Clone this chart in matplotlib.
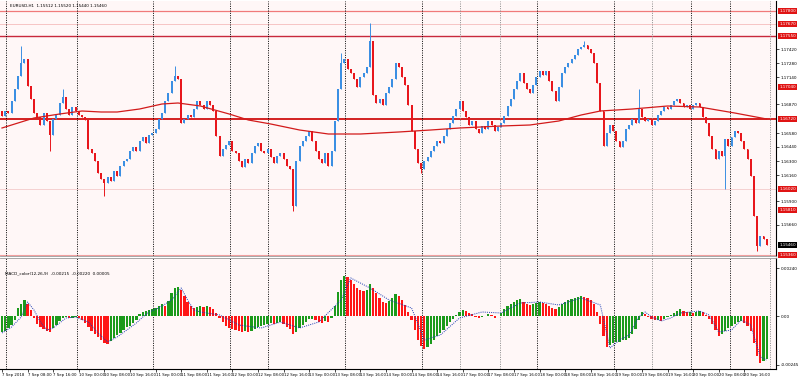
import numpy as np
import pandas as pd
import matplotlib
matplotlib.use("Agg")
import matplotlib.pyplot as plt
import matplotlib.transforms as mtransforms

# ---- price data (H1 closes) ----
first_open = 1.1680
closes = [
    1.1675, 1.1680, 1.1678, 1.1690, 1.1702, 1.1715, 1.1728, 1.1732, 1.1705, 1.1692,
    1.1678, 1.1674, 1.1666, 1.1678, 1.1670, 1.1656, 1.1672, 1.1676, 1.1688, 1.1694,
    1.1682, 1.1676, 1.1684, 1.1680, 1.1676, 1.1674, 1.1671, 1.1642, 1.1638, 1.1630,
    1.1618, 1.1612, 1.1608, 1.1614, 1.1610, 1.1620, 1.1615, 1.1625, 1.1630, 1.1632,
    1.1640, 1.1644, 1.1640, 1.1650, 1.1654, 1.1648, 1.1656, 1.1658, 1.1662, 1.1672,
    1.1678, 1.1690, 1.1698, 1.1710, 1.1715, 1.1712, 1.1668, 1.1672, 1.1676, 1.1674,
    1.1682, 1.1690, 1.1686, 1.1682, 1.1690, 1.1686, 1.1680, 1.1655, 1.1635, 1.1642,
    1.1646, 1.1650, 1.1640, 1.1638, 1.1630, 1.1624, 1.1632, 1.1628, 1.1638, 1.1645,
    1.1648, 1.1640, 1.1638, 1.1642, 1.1634, 1.1628, 1.1635, 1.1638, 1.1632, 1.1625,
    1.1622, 1.1585, 1.1630, 1.1645, 1.1650, 1.1655, 1.1660, 1.1650, 1.1640, 1.1632,
    1.1628, 1.1638, 1.1625, 1.1640, 1.1670, 1.1702, 1.1728, 1.1732, 1.1722, 1.1718,
    1.1712, 1.1704, 1.1714, 1.1718, 1.1724, 1.1750, 1.1696, 1.1688, 1.1692, 1.1686,
    1.1698, 1.1704, 1.1712, 1.1728, 1.1724, 1.1714, 1.1706, 1.1686, 1.1660, 1.1642,
    1.1628, 1.1622, 1.1630, 1.1634, 1.1640, 1.1645, 1.1650, 1.1648, 1.1655, 1.1662,
    1.1668, 1.1675, 1.1682, 1.1690, 1.1680, 1.1674, 1.1666, 1.1670, 1.1662, 1.1658,
    1.1665, 1.1662, 1.1670, 1.1666, 1.1660, 1.1664, 1.1668, 1.1675, 1.1685, 1.1692,
    1.1702, 1.1710, 1.1718, 1.1708, 1.1702, 1.1698, 1.1706, 1.1714, 1.1720, 1.1716,
    1.1720, 1.1710, 1.1700, 1.1690, 1.1704, 1.1718, 1.1724, 1.1728, 1.1732, 1.1736,
    1.1742, 1.1744, 1.1746, 1.1742, 1.1738, 1.1728, 1.1708, 1.1680, 1.1645, 1.1658,
    1.1666, 1.1660, 1.1650, 1.1644, 1.1650, 1.1662, 1.1666, 1.1672, 1.1668, 1.1682,
    1.1674, 1.1670, 1.1672, 1.1666, 1.1670, 1.1676, 1.1680, 1.1684, 1.1682, 1.1686,
    1.1690, 1.1692, 1.1688, 1.1684, 1.1686, 1.1682, 1.1686, 1.1688, 1.1684, 1.1674,
    1.1668, 1.1655, 1.1642, 1.1632, 1.1640, 1.1635, 1.1652, 1.1645, 1.1654, 1.1660,
    1.1658, 1.1650, 1.1642, 1.1632, 1.1615, 1.1575, 1.1545, 1.1555, 1.1552, 1.1546,
]
# wicks that stick out past the bodies (bar index -> price)
wick_high = {6: 1.1745, 19: 1.1702, 54: 1.1725, 106: 1.1738, 115: 1.1768,
             182: 1.1750, 199: 1.1702}
wick_low = {15: 1.1640, 32: 1.1595, 91: 1.1580, 131: 1.1618, 226: 1.1602,
            236: 1.1540}

# moving average, read at a few bars
ma_bars = [0, 10, 18, 25, 31, 36, 43, 50, 55, 62, 71, 77, 84, 93, 102, 112, 124,
           134, 143, 156, 165, 174, 181, 187, 197, 208, 218, 229, 239]
ma_vals = [1.1663, 1.1673, 1.1677, 1.1680, 1.1679, 1.1679, 1.1682, 1.1687, 1.1688,
           1.1685, 1.1677, 1.1671, 1.1667, 1.1661, 1.1657, 1.1657, 1.1659, 1.1661,
           1.1663, 1.1665, 1.1666, 1.1670, 1.1676, 1.1680, 1.1682, 1.1685, 1.1684,
           1.1678, 1.1672]

# horizontal levels
levels = [1.1780, 1.1767, 1.1755, 1.1672, 1.1602, 1.1536]
level_colors = ["#f07a7a", "#f6c4c4", "#c8283c", "#d01010", "#f4caca", "#f2a0a0"]
level_widths = [0.9, 0.7, 1.0, 1.3, 0.6, 0.8]
box_levels = [1.1780, 1.1767, 1.1755, 1.1704, 1.1672, 1.1602, 1.1581, 1.1536]
price_ticks = [1.1742, 1.1728, 1.1714, 1.1687, 1.1658, 1.1644, 1.1630, 1.1616,
               1.1590, 1.1566]

# MACD histogram and signal, in points (1e-5)
hist_pts = [
    -80, -75, -60, -45, -20, 40, 60, 80, 60, 30,
    -10, -40, -55, -65, -75, -80, -60, -45, -25, -10,
    -5, -10, -10, -5, -10, -20, -35, -55, -75, -90,
    -105, -120, -135, -140, -125, -110, -95, -85, -70, -55,
    -50, -35, -20, 10, 20, 25, 30, 35, 40, 50,
    60, 50, 75, 115, 140, 145, 130, 100, 70, 50,
    40, 45, 50, 45, 50, 45, 35, 15, -10, -30,
    -50, -60, -65, -70, -75, -80, -75, -80, -75, -65,
    -55, -50, -45, -40, -35, -40, -35, -30, -40, -55,
    -65, -90, -80, -60, -45, -30, -15, -15, -20, -30,
    -35, -25, -30, -10, 50, 120, 180, 200, 195, 180,
    160, 140, 130, 125, 130, 160, 140, 115, 90, 70,
    65, 75, 90, 110, 100, 80, 55, 20, -20, -70,
    -120, -150, -165, -155, -140, -120, -100, -85, -70, -50,
    -30, -15, 5, 20, 30, 25, 15, 10, -5, -10,
    -5, 2, 10, 5, -10, -2, 15, 35, 50, 60,
    70, 80, 85, 70, 60, 55, 60, 65, 70, 65,
    60, 50, 40, 35, 45, 60, 70, 80, 85, 90,
    95, 100, 95, 90, 80, 60, 20, -40, -100, -155,
    -145, -135, -130, -130, -120, -120, -110, -90, -65, -20,
    20, 10, -5, -15, -20, -20, -25, -15, -5, 5,
    15, 25, 35, 25, 20, 20, 15, 20, 25, 20,
    5, -15, -40, -70, -100, -90, -75, -60, -50, -40,
    -30, -25, -35, -50, -75, -135, -200, -235, -225, -215,
]
sig_bars = [0, 3, 6, 8, 10, 12, 14, 16, 18, 20, 23, 27, 30, 33, 36, 39, 42, 44, 46,
            49, 53, 56, 58, 60, 62, 68, 74, 81, 87, 93, 99, 106, 109, 115, 121, 128,
            132, 137, 143, 150, 156, 162, 168, 174, 181, 187, 190, 193, 196, 199,
            201, 203, 206, 209, 212, 218, 221, 224, 228, 231, 234, 237, 239]
sig_pts = [-85, -55, -5, 70, 30, -30, -70, -60, -35, -10, -5, -30, -85, -130, -105,
           -70, -35, -5, 20, 40, 80, 140, 80, 30, 20, 5, -45, -60, -30, -60, -30,
           80, 190, 140, 80, 40, -120, -95, -10, 20, 15, 65, 70, 55, 90, 55, -160,
           -120, -95, -5, 20, -5, -25, -10, 15, 25, 5, -80, -70, -20, -45, -205, -220]

# day separators (bar positions)
sep_bars = [1.25, 23.4, 47.2, 71.25, 83.1, 107.2, 131.25, 143.1, 155.6, 167.2,
            191.25, 203.1, 215.3, 227.5, 240.0]
sep_dark = [True, True, True, True, True, True, True, False, False, True,
            True, False, True, True, False]

bg = "#fff7f7"
bull = "#3b8fe3"
bear = "#e8161c"

closes = np.array(closes)
opens = np.concatenate([[first_open], closes[:-1]])
highs = np.maximum(opens, closes)
lows = np.minimum(opens, closes)
for k, v in wick_high.items():
    highs[k] = v
for k, v in wick_low.items():
    lows[k] = v
idx = np.arange(len(closes))
up = closes >= opens

plt.rcParams["font.family"] = "DejaVu Sans"
fig = plt.figure(figsize=(8, 3.77), dpi=100, facecolor="white")
ax = fig.add_axes([0, 121 / 377, 776 / 800, 255 / 377], facecolor=bg)
ax2 = fig.add_axes([0, 8 / 377, 776 / 800, 111 / 377], facecolor=bg)

xlim = (-0.625, 241.9)

# ---- main price panel ----
for lv, c, w in zip(levels, level_colors, level_widths):
    ax.axhline(lv, color=c, lw=w, zorder=1)
for b, d in zip(sep_bars, sep_dark):
    for a in (ax, ax2):
        a.axvline(b, color="black" if d else "#888888", lw=0.7,
                  ls=(0, (1, 1.4)), zorder=1)

cols = np.where(up, bull, bear)
ax.vlines(idx, lows, highs, colors=cols, lw=0.7, zorder=2)
body_lo = np.minimum(opens, closes)
body_h = np.maximum(np.abs(closes - opens), 0.00003)
ax.bar(idx, body_h, bottom=body_lo, width=0.6, color=cols, edgecolor="none", zorder=2)
ax.plot(ma_bars, ma_vals, color="#d21a1a", lw=0.9, zorder=3)

ax.set_xlim(*xlim)
ax.set_ylim(1.1535, 1.1790)
ax.set_xticks([])
ax.yaxis.tick_right()
ax.set_yticks(price_ticks)
ax.set_yticklabels([f"{p:.5f}" for p in price_ticks])
ax.tick_params(axis="y", labelsize=3.0, length=2, width=0.5, pad=1.5)
for s in ("left", "top"):
    ax.spines[s].set_visible(False)
ax.spines["right"].set_color("black")
ax.spines["right"].set_linewidth(0.8)
ax.spines["bottom"].set_color("#999999")
ax.spines["bottom"].set_linewidth(0.6)

trans = mtransforms.blended_transform_factory(ax.transAxes, ax.transData)
for lv in box_levels:
    ax.text(1.004, lv, f"{lv:.5f}", transform=trans, fontsize=3.0, color="white",
            va="center", ha="left", clip_on=False, zorder=5,
            bbox=dict(boxstyle="square,pad=0.3", fc="#e01414", ec="none"))
ax.text(1.004, closes[-1], f"{closes[-1]:.5f}", transform=trans, fontsize=3.0,
        color="white", va="center", ha="left", clip_on=False, zorder=5,
        bbox=dict(boxstyle="square,pad=0.3", fc="black", ec="none"))

fig.text(0.012, 1 - 6 / 377, "EURUSD,H1  1.15512 1.15520 1.15440 1.15460",
         fontsize=3.0, va="center", ha="left")

# ---- indicator panel ----
hist = np.array(hist_pts)
prev = np.concatenate([[hist[0]], hist[:-1]])
hcols = np.where(hist >= prev, "#1b9a1b", "#ff1616")
ax2.bar(idx, hist, width=0.7, color=hcols, edgecolor="none", zorder=2)
ax2.plot(sig_bars, sig_pts, color="#1c3cb4", lw=0.7, ls=(0, (1, 1.2)), zorder=3)
ax2.set_xlim(*xlim)
ax2.set_ylim(-265, 290)
ax2.yaxis.tick_right()
ax2.set_yticks([-245, 0, 240])
ax2.set_yticklabels(["-0.00245", "0.00", "0.00240"])
ax2.tick_params(axis="y", labelsize=3.0, length=2, width=0.5, pad=1.5)
ax2.text(0.006, 0.86, "MACD_color(12,26,9)  -0.00215  -0.00220  0.00005",
         transform=ax2.transAxes, fontsize=3.0, va="center", ha="left")

times = pd.date_range("2018-09-07 00:00", periods=400, freq="h")
times = times[times.dayofweek < 5][:len(closes)]
tick_pos = list(range(0, len(closes), 8))
tick_lab = [f"{times[i].day} {times[i]:%b %Y}" if i == 0
            else f"{times[i].day} {times[i]:%b %H:%M}" for i in tick_pos]
ax2.set_xticks(tick_pos)
ax2.set_xticklabels(tick_lab)
ax2.tick_params(axis="x", labelsize=2.8, length=2, width=0.5, pad=1)
for lab in ax2.get_xticklabels():
    lab.set_horizontalalignment("left")
ax2.spines["left"].set_visible(False)
ax2.spines["top"].set_color("#999999")
ax2.spines["top"].set_linewidth(0.6)
for s in ("right", "bottom"):
    ax2.spines[s].set_color("black")
    ax2.spines[s].set_linewidth(0.8)

fig.savefig("out.png", dpi=100, facecolor="white")
